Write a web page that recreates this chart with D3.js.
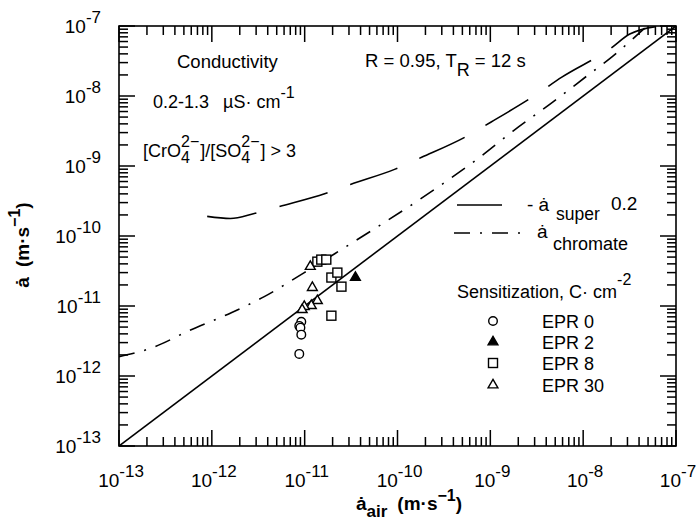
<!DOCTYPE html>
<html><head><meta charset="utf-8">
<script src="https://cdn.jsdelivr.net/npm/d3@7"></script>
<style>body{margin:0;background:#fff}svg{display:block}text{font-family:"Liberation Sans",Arial,sans-serif;fill:#000}</style>
</head><body>
<svg id="c" width="696" height="525"></svg>
<script>
const tickExps = [-13,-12,-11,-10,-9,-8,-7];
const minorMults = [1,2,3,4,5,6,7,8,9];
const superX = [8.91e-13,1.585e-12,2.864e-12,5.33e-12,1.67e-11,3.11e-11,9.29e-11,1.82e-10,5.56e-10,1.01e-9,3.16e-9,5.89e-9,1.94e-8,3.18e-8,6.76e-8];
const superY = [1.905e-10,1.778e-10,2.099e-10,2.64e-10,4.06e-10,5.46e-10,8.95e-10,1.33e-9,2.66e-9,4.22e-9,1.06e-8,1.86e-8,4.69e-8,7.67e-8,1e-7];
const chromX = [1e-13,2.27e-13,5.69e-13,1.62e-12,3.67e-12,9.91e-12,2.49e-11,5.93e-11,2.51e-10,7.67e-10,1.74e-9,4.70e-9,1.09e-8,2.09e-8,4.86e-8];
const chromY = [1.88e-12,2.53e-12,4.44e-12,8.02e-12,1.36e-11,3.0e-11,6.41e-11,1.32e-10,4.63e-10,1.33e-9,3.13e-9,8.17e-9,1.92e-8,3.72e-8,1e-7];
const idX = [1e-13,1e-7], idY = [1e-13,1e-7];
const epr0X = [9.2e-12,8.75e-12,9.0e-12,9.2e-12,8.75e-12];
const epr0Y = [5.96e-12,5.2e-12,4.9e-12,3.9e-12,2.07e-12];
const epr2X = [3.52e-11];
const epr2Y = [2.55e-11];
const epr8X = [1.37e-11,1.51e-11,1.71e-11,1.94e-11,2.25e-11,2.49e-11,1.94e-11];
const epr8Y = [4.3e-11,4.6e-11,4.6e-11,2.55e-11,3.0e-11,1.89e-11,7.27e-12];
const epr30X = [1.15e-11,1.21e-11,1.37e-11,1.18e-11,9.9e-12,9.4e-12];
const epr30Y = [3.66e-11,1.83e-11,1.19e-11,1.01e-11,9.8e-12,8.85e-12];
const legendLabels = ["EPR 0","EPR 2","EPR 8","EPR 30"];

const svg = d3.select("#c");
const L=119,R=676,T=26,B=446;
const x = d3.scaleLog().domain([1e-13,1e-7]).range([L,R]);
const y = d3.scaleLog().domain([1e-13,1e-7]).range([B,T]);

const defs = svg.append("defs");
defs.append("clipPath").attr("id","clip").append("rect").attr("x",L).attr("y",T).attr("width",R-L).attr("height",B-T);

// curves
const lineGen = d3.line().x(d=>x(d[0])).y(d=>y(d[1])).curve(d3.curveMonotoneX);
const plot = svg.append("g").attr("clip-path","url(#clip)");
plot.append("path").attr("d",lineGen(d3.zip(idX,idY))).attr("fill","none").attr("stroke","#000").attr("stroke-width",1.6);
plot.append("path").attr("d",lineGen(d3.zip(superX,superY))).attr("fill","none").attr("stroke","#000").attr("stroke-width",1.6).attr("stroke-dasharray","50,24");
plot.append("path").attr("d",lineGen(d3.zip(chromX,chromY))).attr("fill","none").attr("stroke","#000").attr("stroke-width",1.6).attr("stroke-dasharray","16,10,2,10");

// markers
const tri = d3.symbol().type(d3.symbolTriangle).size(42);
function circles(g,xs,ys){ d3.zip(xs,ys).forEach(([a,b])=>g.append("circle").attr("cx",x(a)).attr("cy",y(b)).attr("r",4.3).attr("fill","#fff").attr("stroke","#000").attr("stroke-width",1.4)); }
function squares(g,xs,ys){ d3.zip(xs,ys).forEach(([a,b])=>g.append("rect").attr("x",x(a)-4.5).attr("y",y(b)-4.5).attr("width",9).attr("height",9).attr("fill","#fff").attr("stroke","#000").attr("stroke-width",1.4)); }
function tris(g,xs,ys,fill){ d3.zip(xs,ys).forEach(([a,b])=>g.append("path").attr("d",tri()).attr("transform",`translate(${x(a)},${y(b)})`).attr("fill",fill).attr("stroke","#000").attr("stroke-width",1.4)); }
circles(plot,epr0X,epr0Y);
squares(plot,epr8X,epr8Y);
tris(plot,epr30X,epr30Y,"#fff");
tris(plot,epr2X,epr2Y,"#000");

// ticks as thin filled rects, inward on all four sides
const tickVals = [];
tickExps.forEach(e=>minorMults.forEach(m=>{ if(!(e===-7 && m>1)) tickVals.push(m*Math.pow(10,e)); }));
const tickG = svg.append("g").attr("fill","#000");
tickVals.forEach(v=>{
  const lg10 = Math.log10(v);
  const t = Math.abs(lg10-Math.round(lg10))<1e-6 ? 16 : 9;
  const px = x(v), py = y(v), w = 1.5;
  tickG.append("rect").attr("x",px-w/2).attr("y",B-t).attr("width",w).attr("height",t);
  tickG.append("rect").attr("x",px-w/2).attr("y",T).attr("width",w).attr("height",t);
  tickG.append("rect").attr("x",L).attr("y",py-w/2).attr("width",t).attr("height",w);
  tickG.append("rect").attr("x",R-t).attr("y",py-w/2).attr("width",t).attr("height",w);
});
svg.append("rect").attr("x",L).attr("y",T).attr("width",R-L).attr("height",B-T).attr("fill","none").attr("stroke","#000").attr("stroke-width",1.6);

// tick labels
tickExps.forEach(e=>{
  const v = Math.pow(10,e);
  const tx = svg.append("text").attr("x",x(v)+2).attr("y",487).attr("text-anchor","middle").style("font-size","19px");
  tx.append("tspan").text("10");
  tx.append("tspan").attr("dy",-10).style("font-size","17px").text("-"+(-e));
  const ty = svg.append("text").attr("x",101).attr("y",y(v)+7).attr("text-anchor","end").style("font-size","19px");
  ty.append("tspan").text("10");
  ty.append("tspan").attr("dy",-10).style("font-size","17px").text("-"+(-e));
});

// annotations
function txt(xx,yy,s,size){ return svg.append("text").attr("x",xx).attr("y",yy).style("font-size",(size||18)+"px").text(s); }
txt(177,68,"Conductivity",18.5);
const r1 = svg.append("text").attr("x",365).attr("y",67).style("font-size","18.5px");
r1.append("tspan").text("R = 0.95, T");
r1.append("tspan").attr("dy",9).style("font-size","18px").text("R");
r1.append("tspan").attr("dy",-9).text(" = 12 s");
const c1 = svg.append("text").attr("x",153).attr("y",108).style("font-size","18px");
c1.append("tspan").text("0.2-1.3");
c1.append("tspan").attr("dx",14).text("\u00B5S\u00B7 cm");
c1.append("tspan").attr("dy",-10).style("font-size","16px").text("-1");

(function(){
  let cx = 143; const base = 157;
  function piece(s, size, dy){ const t = svg.append("text").attr("x",cx).attr("y",base+(dy||0)).style("font-size",size+"px").text(s); return t.node().getComputedTextLength(); }
  cx += piece("[CrO",18);
  const w1 = piece("2\u2212",16,-10); piece("4",16,6);
  cx += w1 + 1;
  cx += piece("]/[SO",18);
  const w2 = piece("2\u2212",16,-10); piece("4",16,6);
  cx += w2 + 1;
  piece("] > 3",18);
})();

// line legend
svg.append("line").attr("x1",457).attr("x2",502).attr("y1",205).attr("y2",205).attr("stroke","#000").attr("stroke-width",1.6);
svg.append("line").attr("x1",454).attr("x2",530).attr("y1",233).attr("y2",233).attr("stroke","#000").attr("stroke-width",1.6).attr("stroke-dasharray","16,10,2,10");
txt(527,211,"- \u0227",19);
txt(556,220,"super",17.5);
txt(611,210,"0.2",19);
txt(537,238,"\u0227",19);
txt(553,250,"chromate",18);

// marker legend
const s1 = svg.append("text").attr("x",457).attr("y",298).style("font-size","18px");
s1.append("tspan").text("Sensitization, C\u00B7 cm");
s1.append("tspan").attr("dy",-13).style("font-size","16px").text("-2");
const ly = [321,342,363,385];
legendLabels.forEach((s,i)=>txt(542,ly[i]+7,s,18));
const lg = svg.append("g");
lg.append("circle").attr("cx",493).attr("cy",ly[0]).attr("r",4.3).attr("fill","#fff").attr("stroke","#000").attr("stroke-width",1.4);
lg.append("path").attr("d",tri()).attr("transform",`translate(493,${ly[1]})`).attr("fill","#000").attr("stroke","#000").attr("stroke-width",1.4);
lg.append("rect").attr("x",488.5).attr("y",ly[2]-4.5).attr("width",9).attr("height",9).attr("fill","#fff").attr("stroke","#000").attr("stroke-width",1.4);
lg.append("path").attr("d",tri()).attr("transform",`translate(493,${ly[3]})`).attr("fill","#fff").attr("stroke","#000").attr("stroke-width",1.4);

// axis titles
const xt = svg.append("text").attr("x",409).attr("y",510).attr("text-anchor","middle").style("font-size","19px").style("font-weight","bold");
xt.append("tspan").text("\u0227");
xt.append("tspan").attr("dy",7).style("font-size","17px").text("air");
xt.append("tspan").attr("dy",-7).attr("dx",10).text("(m\u00B7s");
xt.append("tspan").attr("dy",-9).style("font-size","16px").text("\u22121");
xt.append("tspan").attr("dy",9).text(")");
const yt = svg.append("text").attr("transform","translate(29,245) rotate(-90)").attr("text-anchor","middle").style("font-size","19px").style("font-weight","bold");
yt.append("tspan").text("\u0227");
yt.append("tspan").attr("dx",10).text("(m\u00B7s");
yt.append("tspan").attr("dy",-9).style("font-size","16px").text("\u22121");
yt.append("tspan").attr("dy",9).text(")");
</script>
</body></html>
